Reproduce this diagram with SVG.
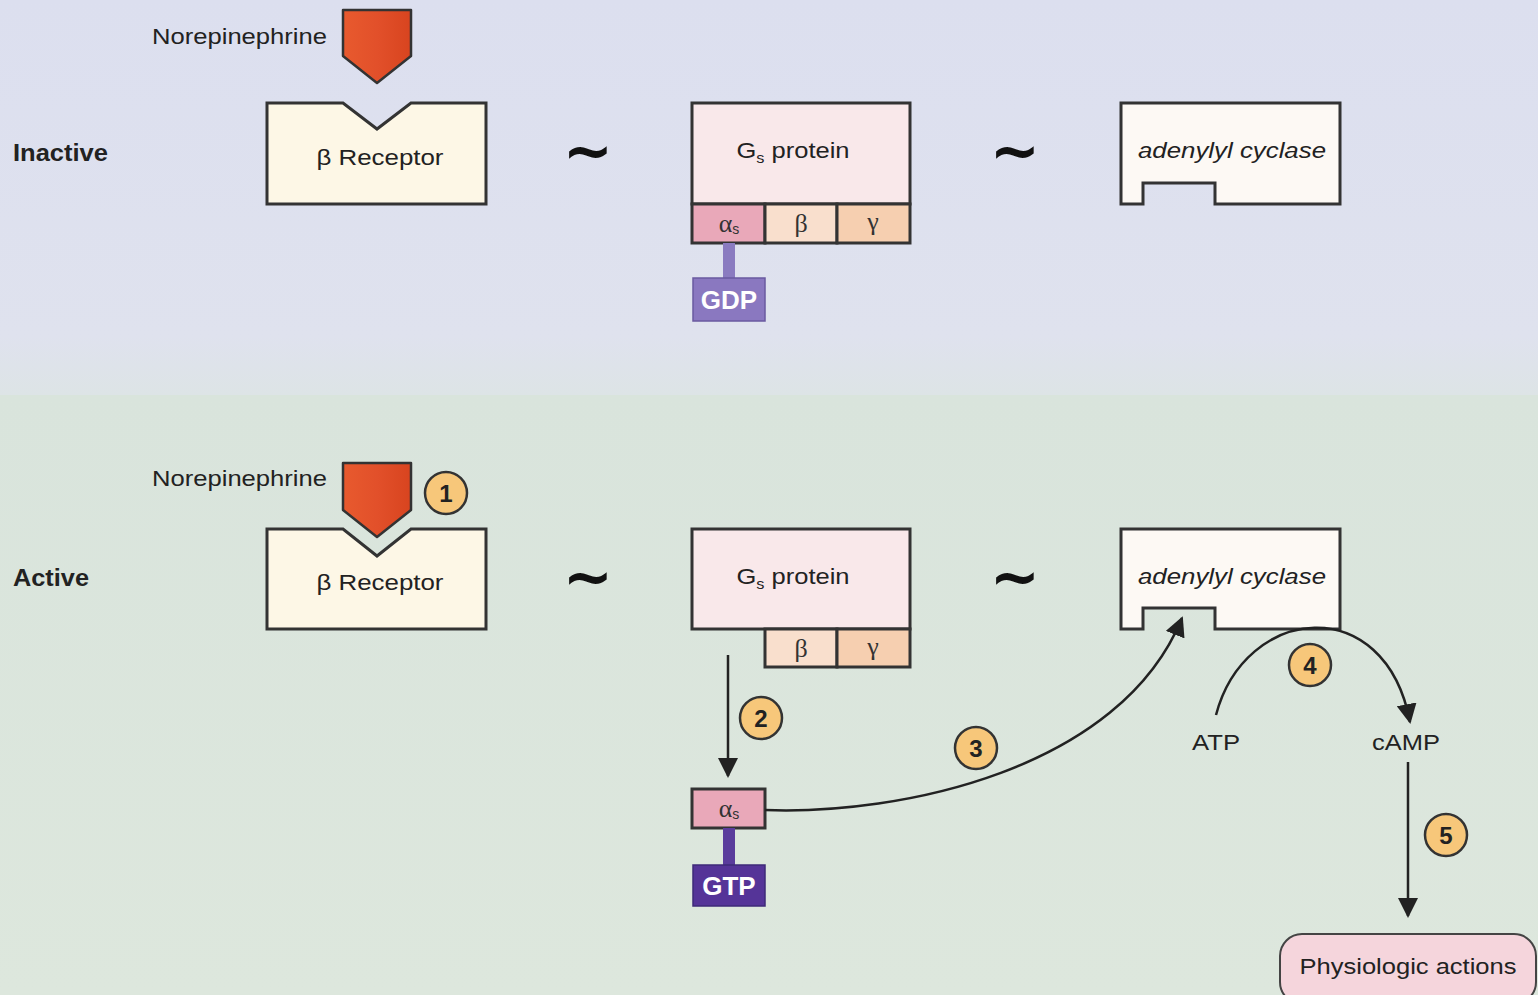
<svg xmlns="http://www.w3.org/2000/svg" width="1538" height="995" viewBox="0 0 1538 995">
<defs>
<linearGradient id="bgTop" x1="0" y1="0" x2="0" y2="1">
<stop offset="0" stop-color="#dcdfef"/>
<stop offset="0.85" stop-color="#dfe2ee"/>
<stop offset="1" stop-color="#dde4e6"/>
</linearGradient>
<linearGradient id="bgBot" x1="0" y1="0" x2="0" y2="1">
<stop offset="0" stop-color="#d9e4dc"/>
<stop offset="1" stop-color="#dde7dd"/>
</linearGradient>
<linearGradient id="lig" x1="0" y1="0" x2="1" y2="0">
<stop offset="0" stop-color="#e85a2e"/>
<stop offset="0.5" stop-color="#e2502a"/>
<stop offset="1" stop-color="#d8441f"/>
</linearGradient>
<marker id="ah2" viewBox="0 0 10 10" refX="9" refY="5" markerWidth="20" markerHeight="20" markerUnits="userSpaceOnUse" orient="auto">
<path d="M0,0 L10,5 L0,10 z" fill="#222"/>
</marker>
</defs>
<style>
.t{font-family:"Liberation Sans",Arial,sans-serif;fill:#222;}
.lbl{font-size:22px;}
.side{font-size:23px;font-weight:bold;}
.box{stroke:#333;stroke-width:3;}
.rec{fill:#fdf7e6;}
.gs{fill:#f9e8ea;}
.ac{fill:#fdf9f4;}
.a{fill:#e9a8b9;}
.b{fill:#f9dfcd;}
.g{fill:#f6cfb0;}
.gr{font-family:"Liberation Serif","DejaVu Serif",serif;font-size:26px;fill:#333;}
.num circle{fill:#f7c77a;stroke:#333;stroke-width:2.5;}
.num text{font-family:"Liberation Sans",Arial,sans-serif;font-size:24px;font-weight:bold;fill:#222;text-anchor:middle;}
.conn{fill:none;stroke:#222;stroke-width:2.5;}
.tilde{font-family:"DejaVu Sans",sans-serif;font-size:60px;font-weight:bold;fill:#111;text-anchor:middle;}
.nuc{font-family:"Liberation Sans",Arial,sans-serif;font-size:26px;font-weight:bold;fill:#fff;text-anchor:middle;}
</style>
<rect x="0" y="0" width="1538" height="395" fill="url(#bgTop)"/>
<rect x="0" y="395" width="1538" height="600" fill="url(#bgBot)"/>

<g id="label-inactive"><text class="t side" x="13" y="161" textLength="95" lengthAdjust="spacingAndGlyphs">Inactive</text></g>
<g id="label-active"><text class="t side" x="13" y="586" textLength="76" lengthAdjust="spacingAndGlyphs">Active</text></g>

<!-- Inactive row -->
<g id="ne-top">
<text class="t lbl" x="152" y="44" textLength="175" lengthAdjust="spacingAndGlyphs">Norepinephrine</text>
<path d="M343,10 H411 V56 L377,83 L343,56 Z" fill="url(#lig)" stroke="#333" stroke-width="2.5" stroke-linejoin="round"/>
</g>
<g id="receptor-top">
<path class="box rec" d="M267,103 H343 L377,129 L411,103 H486 V204 H267 Z"/>
<text class="t lbl" x="380" y="165" text-anchor="middle" textLength="127" lengthAdjust="spacingAndGlyphs">β Receptor</text>
</g>
<g id="tilde-top-1"><text class="tilde" x="588" y="172">~</text></g>
<g id="gs-top">
<rect class="box gs" x="692" y="103" width="218" height="101"/>
<text class="t lbl" x="793" y="158" text-anchor="middle" textLength="113" lengthAdjust="spacingAndGlyphs">G<tspan font-size="14" dy="5">s</tspan><tspan dy="-5"> protein</tspan></text>
<rect class="box a" x="692" y="204" width="73" height="39"/>
<rect class="box b" x="765" y="204" width="72" height="39"/>
<rect class="box g" x="837" y="204" width="73" height="39"/>
<text class="gr" x="729" y="232" text-anchor="middle">α<tspan font-size="14" dy="2" font-family="Liberation Sans, sans-serif">s</tspan></text>
<text class="gr" x="801" y="232" text-anchor="middle">β</text>
<text class="gr" x="873" y="230" text-anchor="middle">γ</text>
<rect x="723" y="243" width="12" height="35" fill="#8a7bc0"/>
<rect x="693" y="278" width="72" height="43" fill="#8a78c0" stroke="#6a5aa0" stroke-width="1.5"/>
<text class="nuc" x="729" y="309">GDP</text>
</g>
<g id="tilde-top-2"><text class="tilde" x="1015" y="172">~</text></g>
<g id="ac-top">
<path class="box ac" d="M1121,103 H1340 V204 H1215 V183 H1143 V204 H1121 Z"/>
<text class="t lbl" x="1232" y="158" text-anchor="middle" font-style="italic" textLength="188" lengthAdjust="spacingAndGlyphs">adenylyl cyclase</text>
</g>

<!-- Active row -->
<g id="receptor-bot">
<path class="box rec" d="M267,529 H343 L377,556 L411,529 H486 V629 H267 Z"/>
<text class="t lbl" x="380" y="590" text-anchor="middle" textLength="127" lengthAdjust="spacingAndGlyphs">β Receptor</text>
</g>
<g id="ne-bot">
<text class="t lbl" x="152" y="486" textLength="175" lengthAdjust="spacingAndGlyphs">Norepinephrine</text>
<path d="M343,463 H411 V510 L377,537 L343,510 Z" fill="url(#lig)" stroke="#333" stroke-width="2.5" stroke-linejoin="round"/>
</g>
<g id="step1" class="num"><circle cx="446" cy="493" r="21"/><text x="446" y="502">1</text></g>
<g id="tilde-bot-1"><text class="tilde" x="588" y="598">~</text></g>
<g id="gs-bot">
<rect class="box gs" x="692" y="529" width="218" height="100"/>
<text class="t lbl" x="793" y="584" text-anchor="middle" textLength="113" lengthAdjust="spacingAndGlyphs">G<tspan font-size="14" dy="5">s</tspan><tspan dy="-5"> protein</tspan></text>
<rect class="box b" x="765" y="629" width="72" height="38"/>
<rect class="box g" x="837" y="629" width="73" height="38"/>
<text class="gr" x="801" y="657" text-anchor="middle">β</text>
<text class="gr" x="873" y="655" text-anchor="middle">γ</text>
</g>
<g id="tilde-bot-2"><text class="tilde" x="1015" y="598">~</text></g>
<g id="ac-bot">
<path class="box ac" d="M1121,529 H1340 V629 H1215 V608 H1143 V629 H1121 Z"/>
<text class="t lbl" x="1232" y="584" text-anchor="middle" font-style="italic" textLength="188" lengthAdjust="spacingAndGlyphs">adenylyl cyclase</text>
</g>
<g id="alpha-gtp">
<rect class="box a" x="692" y="789" width="73" height="39"/>
<text class="gr" x="729" y="817" text-anchor="middle">α<tspan font-size="14" dy="2" font-family="Liberation Sans, sans-serif">s</tspan></text>
<rect x="723" y="828" width="12" height="37" fill="#5a3c9c"/>
<rect x="693" y="865" width="72" height="41" fill="#553498" stroke="#3e2a78" stroke-width="1.5"/>
<text class="nuc" x="729" y="895">GTP</text>
</g>
<g id="label-atp"><text class="t lbl" x="1216" y="750" text-anchor="middle" textLength="48" lengthAdjust="spacingAndGlyphs">ATP</text></g>
<g id="label-camp"><text class="t lbl" x="1406" y="750" text-anchor="middle" textLength="68" lengthAdjust="spacingAndGlyphs">cAMP</text></g>
<g id="physio">
<rect x="1280" y="934" width="256" height="70" rx="22" fill="#f5d5dc" stroke="#444" stroke-width="2"/>
<text class="t lbl" x="1408" y="974" text-anchor="middle" textLength="217" lengthAdjust="spacingAndGlyphs">Physiologic actions</text>
</g>

<g id="connectors">
<path class="conn" d="M728,655 V776" marker-end="url(#ah2)"/>
<path class="conn" d="M765,810 C900,815 1120,770 1182,618" marker-end="url(#ah2)"/>
<path class="conn" d="M1216,715 C1245,605 1385,590 1410,722" marker-end="url(#ah2)"/>
<path class="conn" d="M1408,762 V916" marker-end="url(#ah2)"/>
</g>
<g id="step2" class="num"><circle cx="761" cy="718" r="21"/><text x="761" y="727">2</text></g>
<g id="step3" class="num"><circle cx="976" cy="748" r="21"/><text x="976" y="757">3</text></g>
<g id="step4" class="num"><circle cx="1310" cy="665" r="21"/><text x="1310" y="674">4</text></g>
<g id="step5" class="num"><circle cx="1446" cy="835" r="21"/><text x="1446" y="844">5</text></g>
</svg>
